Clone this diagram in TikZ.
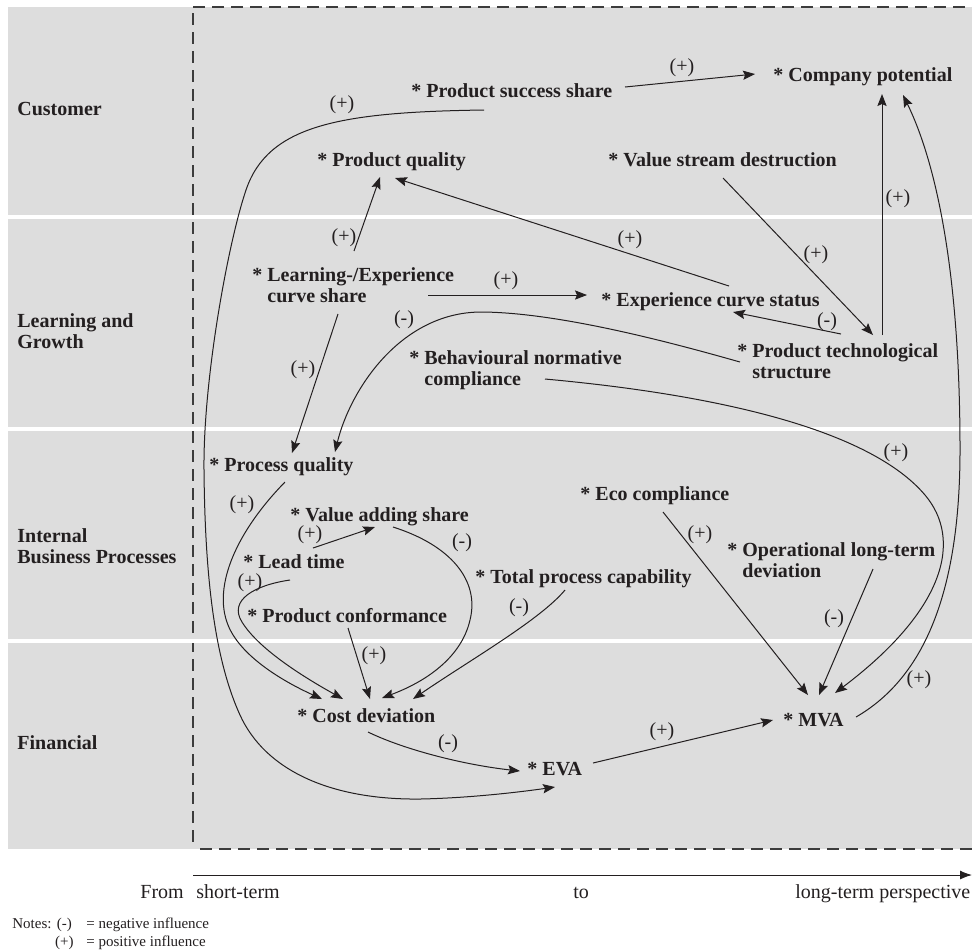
\documentclass[tikz,border=0pt]{standalone}
\usepackage{fontspec}
\setmainfont{Liberation Serif}
\usetikzlibrary{arrows.meta}
\definecolor{bg}{RGB}{221,221,221}
\definecolor{ink}{RGB}{35,31,32}
\definecolor{dashc}{RGB}{60,60,60}
\newcommand{\starlines}[2]{\begin{tabular}[t]{@{}l@{}}#1\\\hphantom{* }#2\end{tabular}}
\newcommand{\plainlines}[2]{\begin{tabular}[t]{@{}l@{}}#1\\#2\end{tabular}}
\tikzset{
  var/.style={anchor=base west, inner sep=0pt, text=ink, font=\fontsize{10}{10.5}\selectfont\bfseries},
  persp/.style={anchor=base west, inner sep=0pt, text=ink, font=\fontsize{10}{10.5}\selectfont\bfseries},
  sign/.style={inner sep=0pt, text=ink, font=\fontsize{10}{12}\selectfont},
  axistext/.style={anchor=base west, inner sep=0pt, text=ink, font=\fontsize{10}{12}\selectfont},
  link/.style={draw=ink, line width=0.5pt, -{Stealth[length=6pt,width=4.6pt,inset=1pt]}},
  bound/.style={draw=dashc, line width=0.55pt, dash pattern=on 6pt off 3.5pt},
}
\begin{document}
\begin{tikzpicture}[x=0.5pt,y=-0.5pt]
\useasboundingbox (0,0) rectangle (972,950);
% background bands
\fill[bg] (8,7) rectangle (972,849);
\draw[bound] (193,7) -- (972,7);
\draw[bound] (193,13) -- (193,845);
\draw[bound] (200,849) -- (972,849);
\fill[white] (8,214.5) rectangle (972,218.5);
\fill[white] (8,426.5) rectangle (972,430.5);
\fill[white] (8,638.5) rectangle (972,642.5);

% perspectives
\node[persp] (cust) at (17,115) {Customer};
\node[persp] (lg) at (17,327) {\plainlines{Learning and}{Growth}};
\node[persp] (ibp) at (17,542) {\plainlines{Internal}{Business Processes}};
\node[persp] (fin) at (17,749) {Financial};

% variables
\node[var] (pss) at (411,97) {* Product success share};
\node[var] (cp) at (773,81) {* Company potential};
\node[var] (pq) at (317,166) {* Product quality};
\node[var] (vsd) at (608,166) {* Value stream destruction};
\node[var] (lecs) at (252,281) {\starlines{* Learning-/Experience}{curve share}};
\node[var] (ecs) at (601,306) {* Experience curve status};
\node[var] (pts) at (737,357) {\starlines{* Product technological}{structure}};
\node[var] (bnc) at (409,364) {\starlines{* Behavioural normative}{compliance}};
\node[var] (prq) at (209,471) {* Process quality};
\node[var] (vas) at (290,521) {* Value adding share};
\node[var] (lt) at (243,568) {* Lead time};
\node[var] (pc) at (247,622) {* Product conformance};
\node[var] (tpc) at (475,583) {* Total process capability};
\node[var] (eco) at (580,500) {* Eco compliance};
\node[var] (old) at (727,556) {\starlines{* Operational long-term}{deviation}};
\node[var] (cd) at (297,722) {* Cost deviation};
\node[var] (eva) at (527,775) {* EVA};
\node[var] (mva) at (783,726) {* MVA};

% connectors
\draw[link] ([shift={(214,-10)}]pss.base west) -- ([shift={(-18,-7)}]cp.base west) node[sign] at (682,68) {(+)};
\draw[link] ([shift={(73,13)}]pss.base west) .. controls (340,112) and (268,125) .. (246,190) .. controls (228,243) and (203,380) .. (204,470) .. controls (205,580) and (215,660) .. (240,715) .. controls (265,770) and (330,800) .. (420,799) .. controls (470,798) and (520,792) .. ([shift={(28,12)}]eva.base west) node[sign] at (342,105) {(+)};
\draw[link] ([shift={(102,-30)}]lecs.base west) -- ([shift={(63,11)}]pq.base west) node[sign] at (344,238) {(+)};
\draw[link] ([shift={(128,-20)}]ecs.base west) -- ([shift={(78,12)}]pq.base west) node[sign] at (630,240) {(+)};
\draw[link] ([shift={(176,14)}]lecs.base west) -- ([shift={(-14,-11)}]ecs.base west) node[sign] at (506,281) {(+)};
\draw[link] ([shift={(115,12)}]vsd.base west) -- ([shift={(136,-22)}]pts.base west) node[sign] at (816,255) {(+)};
\draw[link] ([shift={(145,-22)}]pts.base west) -- ([shift={(109,13)}]cp.base west) node[sign] at (898,199) {(+)};
\draw[link] ([shift={(104,-23)}]pts.base west) -- ([shift={(132,6)}]ecs.base west) node[sign] at (827,322) {(-)};
\draw[link] ([shift={(3,5)}]pts.base west) .. controls (680,345) and (560,312) .. (480,312) .. controls (400,313) and (350,390) .. ([shift={(126,-19)}]prq.base west) node[sign] at (404,320) {(-)};
\draw[link] ([shift={(136,15)}]bnc.base west) .. controls (720,395) and (870,430) .. (925,495) .. controls (963,540) and (945,610) .. ([shift={(52,-33)}]mva.base west) node[sign] at (896,453) {(+)};
\draw[link] ([shift={(83,12)}]eco.base west) -- ([shift={(25,-31)}]mva.base west) node[sign] at (700,535) {(+)};
\draw[link] ([shift={(146,13)}]old.base west) -- ([shift={(36,-31)}]mva.base west) node[sign] at (834,619) {(-)};
\draw[link] ([shift={(73,-9)}]mva.base west) .. controls (920,680) and (960,600) .. (960,450) .. controls (960,250) and (930,150) .. ([shift={(130,14)}]cp.base west) node[sign] at (919,680) {(+)};
\draw[link] ([shift={(86,33)}]lecs.base west) -- ([shift={(83,-18)}]prq.base west) node[sign] at (303,370) {(+)};
\draw[link] ([shift={(76,11)}]prq.base west) .. controls (238,530) and (212,585) .. (228,625) .. controls (240,655) and (280,680) .. ([shift={(25,-23)}]cd.base west) node[sign] at (242,505) {(+)};
\draw[link] ([shift={(47,12)}]lt.base west) .. controls (255,585) and (228,600) .. (242,622) .. controls (258,648) and (300,675) .. ([shift={(46,-23)}]cd.base west) node[sign] at (250,583) {(+)};
\draw[link] ([shift={(70,-20)}]lt.base west) -- ([shift={(85,6)}]vas.base west) node[sign] at (310,535) {(+)};
\draw[link] ([shift={(103,6)}]vas.base west) .. controls (450,545) and (480,580) .. (470,620) .. controls (462,655) and (430,680) .. ([shift={(85,-24)}]cd.base west) node[sign] at (462,543) {(-)};
\draw[link] ([shift={(101,6)}]pc.base west) -- ([shift={(73,-23)}]cd.base west) node[sign] at (374,656) {(+)};
\draw[link] ([shift={(90,7)}]tpc.base west) .. controls (540,620) and (470,660) .. ([shift={(116,-23)}]cd.base west) node[sign] at (519,608) {(-)};
\draw[link] ([shift={(71,10)}]cd.base west) .. controls (405,750) and (465,765) .. ([shift={(-7,-4)}]eva.base west) node[sign] at (448,744) {(-)};
\draw[link] ([shift={(66,-12)}]eva.base west) -- ([shift={(-10,-6)}]mva.base west) node[sign] at (662,732) {(+)};

% time axis
\coordinate (axs) at (193,875);
\coordinate (axe) at (972,875);
\draw[draw=ink, line width=0.5pt, -{Latex[length=6pt,width=4.5pt]}] (axs) -- (axe);
\node[axistext] (from) at (140,898) {From};
\node[axistext] (short) at (196,898) {short-term};
\node[axistext] (to) at (573,898) {to};
\node[axistext] (long) at (795,898) {long-term perspective};

% notes
\node[anchor=base west, inner sep=0pt, text=ink, font=\fontsize{7.5}{9}\selectfont] (notes) at (12,928) {\begin{tabular}[t]{@{}l@{}}\makebox[21.5pt][l]{Notes:}\makebox[9pt][c]{(-)}\hspace{6.5pt}= negative influence\\\makebox[21.5pt][l]{}\makebox[9pt][c]{(+)}\hspace{6.5pt}= positive influence\end{tabular}};
\end{tikzpicture}
\end{document}
